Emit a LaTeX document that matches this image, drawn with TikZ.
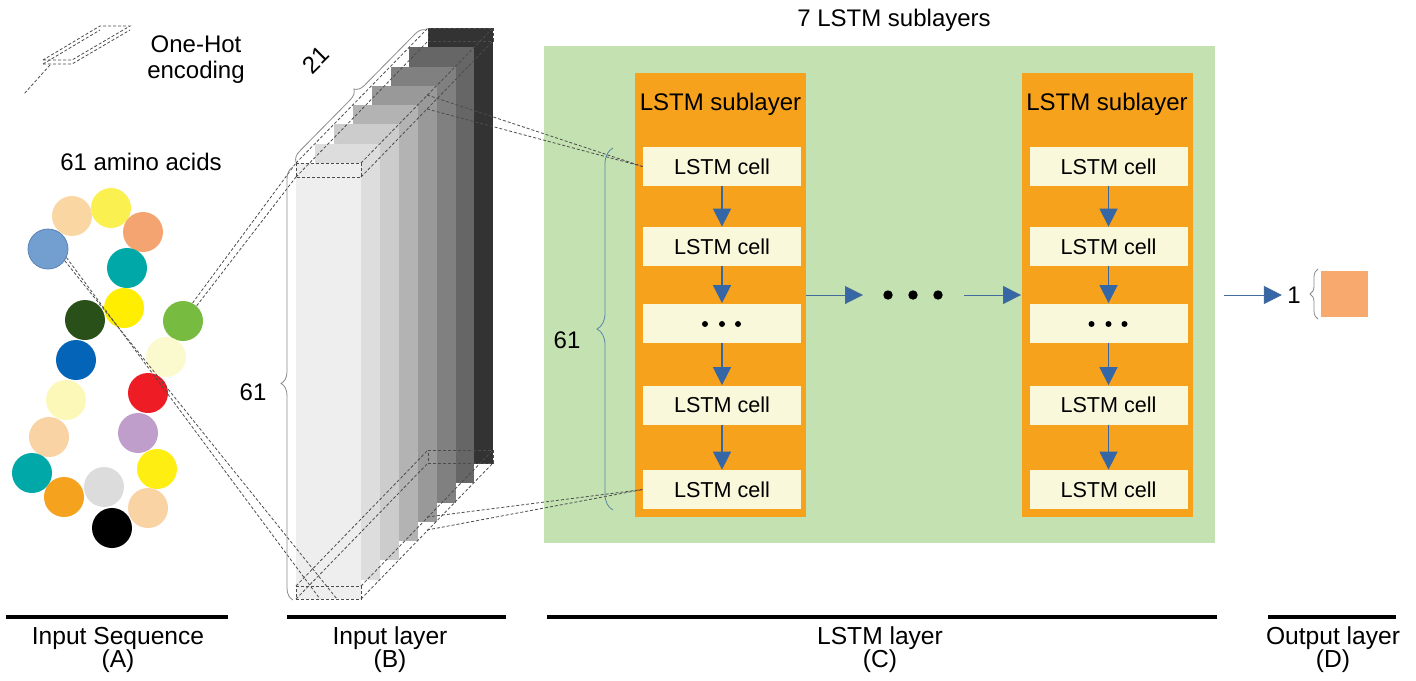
\documentclass[tikz,border=0pt]{standalone}
\usepackage{fontspec}
\setmainfont{Liberation Sans}
\usetikzlibrary{arrows.meta,decorations.pathreplacing}

\definecolor{layergreen}{HTML}{C4E1B2}
\definecolor{suborange}{HTML}{F7A21D}
\definecolor{cellcream}{HTML}{F9F8DA}
\definecolor{flowblue}{HTML}{3566A6}
\definecolor{outorange}{HTML}{F8AA6E}
\definecolor{bracegray}{HTML}{8A8A8A}
\definecolor{braceblue}{HTML}{5A86A8}
\definecolor{slab0}{HTML}{EEEEEE}
\definecolor{slab1}{HTML}{DDDDDD}
\definecolor{slab2}{HTML}{CCCCCC}
\definecolor{slab3}{HTML}{B3B3B3}
\definecolor{slab4}{HTML}{999999}
\definecolor{slab5}{HTML}{808080}
\definecolor{slab6}{HTML}{666666}
\definecolor{slab7}{HTML}{333333}

\tikzset{
  lbl/.style={font=\fontsize{12}{13}\selectfont, inner sep=0pt, text=black},
  caption/.style={lbl, align=center, font=\fontsize{12.3}{11.5}\selectfont},
  celltxt/.style={fill=cellcream, minimum width=79pt, minimum height=19.5pt,
    inner sep=0pt, font=\fontsize{10.8}{12}\selectfont},
  sublayer/.style={fill=suborange, minimum width=85.5pt, minimum height=222pt, inner sep=0pt},
  flow/.style={draw=flowblue, line width=0.75pt, -{Triangle[length=9pt,width=9pt]}},
  hflow/.style={draw=flowblue!80!gray, line width=0.5pt, -{Triangle[length=9pt,width=9pt,fill=flowblue]}},
  dashline/.style={draw=black!70, line width=0.4pt, dash pattern=on 1.5pt off 1pt},
  bead/.style={circle, minimum size=20pt, inner sep=0pt},
  bigdot/.style={circle, fill=black, minimum size=4.7pt, inner sep=0pt},
  curly/.style={decorate, line width=0.4pt},
  baseline rule/.style={line width=2pt, black},
}

\begin{document}
\begin{tikzpicture}[x=0.5pt, y=-0.5pt]
\useasboundingbox (0,0) rectangle (1416,680);

% ---------- one-hot encoding glyph ----------
\draw[dashline] (43,60) -- (72,60) -- (130,26) -- (100,26) -- cycle;
\draw[dashline] (43,64) -- (72,64) -- (130,30);
\draw[dashline] (43,64) -- (100,30);
\draw[dashline] (50,65) -- (24,94);
\node[lbl, align=center, font=\fontsize{12}{13}\selectfont] (onehot) at (196,60) {One-Hot\\encoding};

% ---------- input sequence ----------
\node[lbl] (seqtitle) at (141,162) {61 amino acids};
\node[bead, fill={rgb,255:red,250;green,215;blue,162}] (c1) at (72,216) {};
\node[bead, fill={rgb,255:red,250;green,240;blue,80}] (c2) at (111,208) {};
\node[bead, fill={rgb,255:red,244;green,164;blue,112}] (c3) at (143,232) {};
\node[bead, fill={rgb,255:red,114;green,159;blue,207}, draw={rgb,255:red,90;green,130;blue,180}, line width=0.4pt] (c4) at (48,249) {};
\node[bead, fill={rgb,255:red,0;green,168;blue,168}] (c5) at (127,268) {};
\node[bead, fill={rgb,255:red,255;green,238;blue,0}] (c6) at (124,308) {};
\node[bead, fill={rgb,255:red,42;green,80;blue,26}] (c7) at (85,320) {};
\node[bead, fill={rgb,255:red,119;green,188;blue,65}] (c8) at (183,321) {};
\node[bead, fill={rgb,255:red,251;green,249;blue,206}] (c9) at (166,357) {};
\node[bead, fill={rgb,255:red,4;green,101;blue,184}] (c10) at (76,360) {};
\node[bead, fill={rgb,255:red,238;green,28;blue,37}] (c11) at (148,393) {};
\node[bead, fill={rgb,255:red,251;green,248;blue,184}] (c12) at (66,400) {};
\node[bead, fill={rgb,255:red,192;green,158;blue,204}] (c13) at (138,433) {};
\node[bead, fill={rgb,255:red,249;green,211;blue,163}] (c14) at (49,437) {};
\node[bead, fill={rgb,255:red,255;green,238;blue,17}] (c15) at (157,469) {};
\node[bead, fill={rgb,255:red,0;green,168;blue,168}] (c16) at (32,473) {};
\node[bead, fill={rgb,255:red,220;green,220;blue,220}] (c18) at (104,487) {};
\node[bead, fill={rgb,255:red,245;green,162;blue,30}] (c17) at (64,497) {};
\node[bead, fill={rgb,255:red,249;green,211;blue,163}] (c19) at (148,508) {};
\node[bead, fill=black] (c20) at (112,528) {};

% ---------- input layer: stack of one-hot slabs ----------
\foreach \i in {7,6,...,0}{
  \fill[slab\i] ({296+18.9*\i},{163-19.3*\i}) rectangle ++(65,436);
}
% first row slice
\coordinate (tf1) at (296,163); \coordinate (tf2) at (361,163);
\coordinate (tf3) at (361,177); \coordinate (tf4) at (296,177);
\coordinate (tb1) at (428,28);  \coordinate (tb2) at (493,28);
\coordinate (tb3) at (493,41);  \coordinate (tb4) at (428,41);
\draw[dashline] (tf1) -- (tf2) -- (tf3) -- (tf4) -- cycle;
\draw[dashline] (tb1) -- (tb2) -- (tb3) -- (tb4) -- cycle;
\foreach \k in {1,...,4}{ \draw[dashline] (tf\k) -- (tb\k); }
% last row slice
\coordinate (bf1) at (296,586); \coordinate (bf2) at (361,586);
\coordinate (bf3) at (361,599); \coordinate (bf4) at (296,599);
\coordinate (bb1) at (428,450); \coordinate (bb2) at (493,450);
\coordinate (bb3) at (493,463); \coordinate (bb4) at (428,463);
\draw[dashline] (bf1) -- (bf2) -- (bf3) -- (bf4) -- cycle;
\draw[dashline] (bb1) -- (bb2) -- (bb3) -- (bb4) -- cycle;
\foreach \k in {1,...,4}{ \draw[dashline] (bf\k) -- (bb\k); }

% residues mapped onto rows
\coordinate (rowlast1) at (320,599);
\coordinate (rowlast2) at (337,599);
\draw[dashline] (c4.-25) -- (rowlast1);
\draw[dashline] (c4.-35) -- (rowlast2);
\draw[dashline] (c8.62) -- (tf1);
\draw[dashline] (c8.48) -- (tf4);

% dimension braces
\draw[curly, bracegray, decoration={brace, amplitude=6pt}] (293,600) -- (293,167);
\node[lbl] (rows) at (253,392) {61};
\draw[curly, bracegray, decoration={brace, amplitude=5pt}] (296,162) -- (426,30);
\node[lbl, rotate=45] (cols) at (316,60) {21};

% ---------- LSTM layer ----------
\fill[layergreen] (544,46) rectangle (1215,543);
\node[lbl] (lstmtitle) at (894,20) {7 LSTM sublayers};

\node[sublayer] (SLL) at (720.5,295) {};
\node[sublayer] (SLR) at (1107,295) {};
\node[lbl] (tl) at (720.5,104) {LSTM sublayer};
\node[lbl] (tr) at (1107,104) {LSTM sublayer};

\foreach \n/\xc in {L/722,R/1108.5}{
  \node[celltxt] (\n1) at (\xc,166.5) {LSTM cell};
  \node[celltxt] (\n2) at (\xc,246.5) {LSTM cell};
  \node[celltxt] (\n3) at (\xc,323) {};
  \node[celltxt] (\n4) at (\xc,405) {LSTM cell};
  \node[celltxt] (\n5) at (\xc,489.5) {LSTM cell};
  \foreach \dx in {-17,0,16}{
    \fill ([xshift=\dx*0.5pt, yshift=-0.5pt]\n3.center) circle[radius=3];
  }
  \draw[flow] (\n1.south) -- (\n2.north);
  \draw[flow] (\n2.south) -- (\n3.north);
  \draw[flow] (\n3.south) -- (\n4.north);
  \draw[flow] (\n4.south) -- (\n5.north);
}

% rows of the input feed the first and last cells
\coordinate (ta) at (427,95);
\coordinate (tb) at (427,109);
\coordinate (ba) at (427,517);
\coordinate (bb) at (427,530);
\draw[dashline] (ta) -- (L1.west);
\draw[dashline] (tb) -- (L1.west);
\draw[dashline] (ba) -- (L5.west);
\draw[dashline] (bb) -- (L5.west);

% sequence-length brace
\draw[curly, braceblue, decoration={brace, amplitude=8pt}] (613,510) -- (613,148);
\node[lbl] (seqlen) at (567,340) {61};

% between sublayers
\coordinate (h1) at (863,295);
\coordinate (h2) at (964,295);
\node[bigdot] (d1) at (888,295) {};
\node[bigdot] (d2) at (913,295) {};
\node[bigdot] (d3) at (938,295) {};
\draw[hflow] (SLL.east) -- (h1);
\draw[hflow] (h2) -- (SLR.west);

% ---------- output layer ----------
\coordinate (o0) at (1224,295);
\node[lbl] (one) at (1294,295) {1};
\draw[hflow, shorten >=2.5pt] (o0) -- (one.west);
\draw[curly, bracegray, decoration={brace, amplitude=4pt}] (1318,319) -- (1318,269);
\node[fill=outorange, minimum width=23.5pt, minimum height=23pt, inner sep=0pt] (out) at (1344.5,294) {};

% ---------- section captions ----------
\draw[baseline rule] (6,617) -- (228,617);
\draw[baseline rule] (287,617) -- (506,617);
\draw[baseline rule] (547,617) -- (1217,617);
\draw[baseline rule] (1268,617) -- (1396,617);
\node[caption] (capA) at (118,650) {Input Sequence\\(A)};
\node[caption] (capB) at (390,650) {Input layer\\(B)};
\node[caption] (capC) at (880,650) {LSTM layer\\(C)};
\node[caption] (capD) at (1333,650) {Output layer\\(D)};
\end{tikzpicture}
\end{document}
